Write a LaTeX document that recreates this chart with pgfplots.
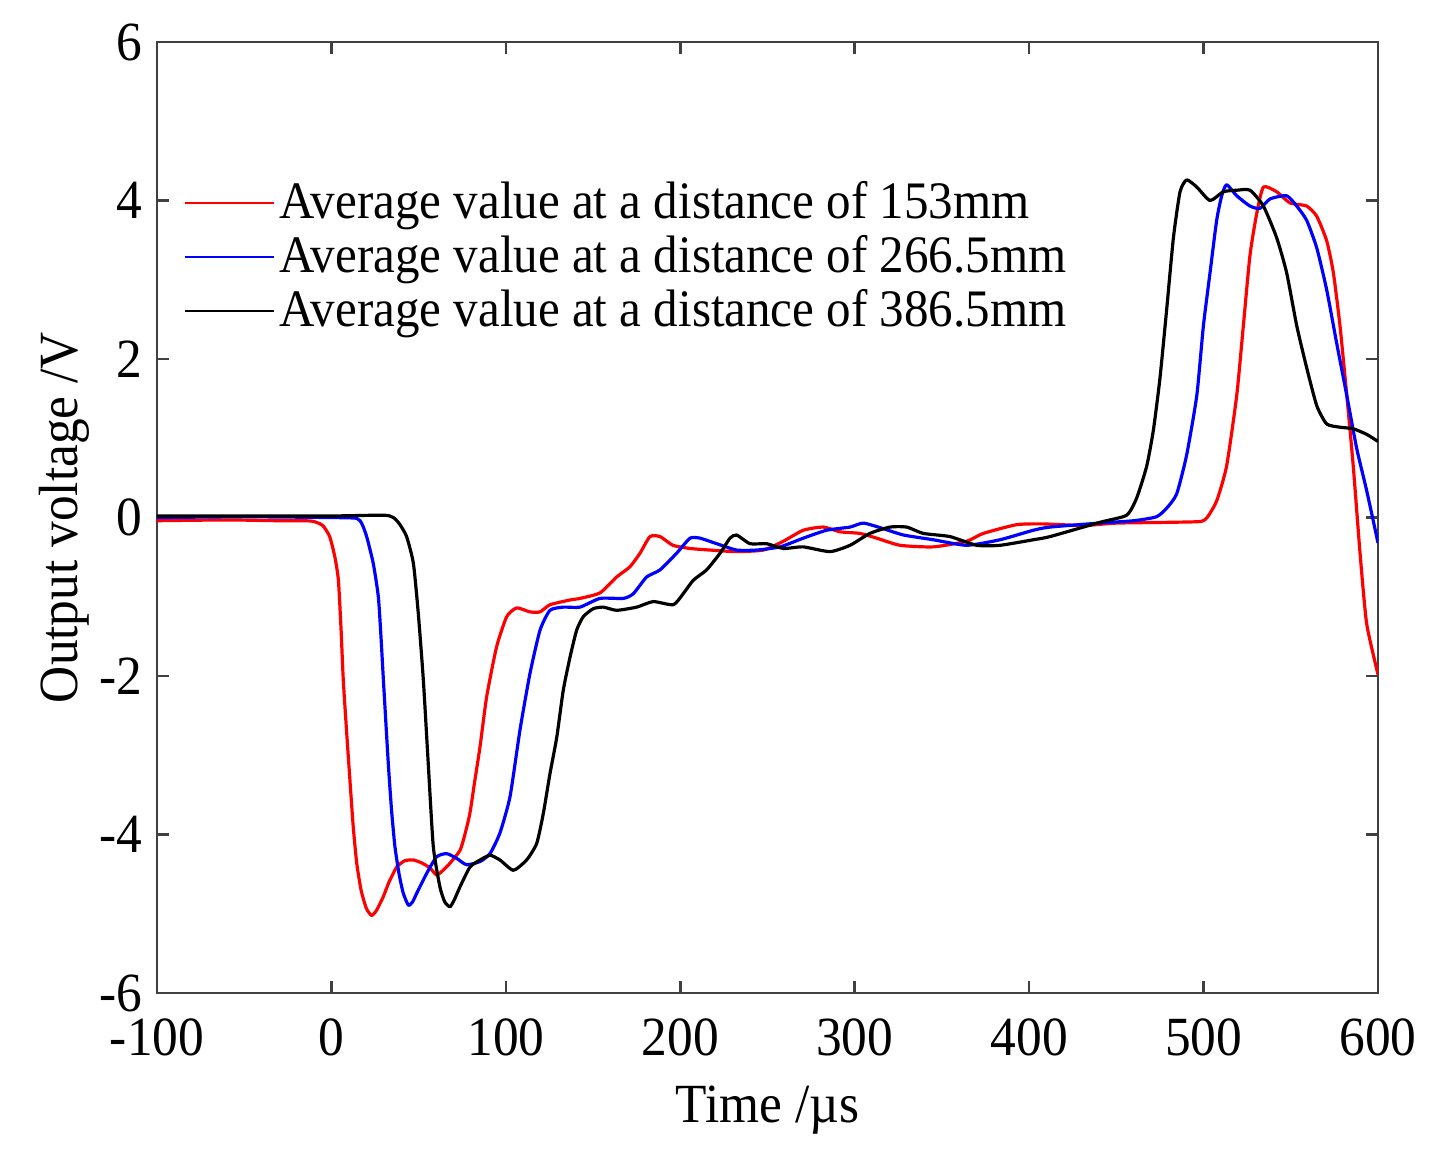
\documentclass[border=0pt]{standalone}
\usepackage{fontspec}
\setmainfont{Liberation Serif}[FakeStretch=0.93]
\usepackage{pgfplots}
\pgfplotsset{compat=1.18}

\begin{document}
\begin{tikzpicture}[font=\fontsize{13}{15}\selectfont]
\begin{axis}[
    name=ax,
    scale only axis,
    width=287.3pt, height=223.8pt,
    xmin=-100, xmax=600,
    ymin=-6, ymax=6,
    xtick={-100,0,100,200,300,400,500,600},
    ytick={-6,-4,-2,0,2,4,6},
    tick align=inside,
    xtick pos=both, ytick pos=both,
    xticklabel pos=lower, yticklabel pos=left,
    major tick length=2.8pt,
    axis line style={black!75, line width=0.6pt},
    every tick/.style={black!75, line width=0.6pt},
    /pgf/number format/assume math mode=true,
    xticklabel style={yshift=-2.6pt},
    xlabel={Time /µs},
    ylabel={Output voltage /V},
    xlabel style={at={(axis description cs:0.5,0)}, anchor=base, yshift=-30.5pt},
    ylabel style={at={(axis description cs:-0.0647,0.5)}, anchor=base},
    legend style={draw=none, fill=none, font=\fontsize{12.4}{14}\selectfont,
        at={(axis description cs:0.011,0.868)}, anchor=north west,
        nodes={inner sep=1pt}, row sep=0.5pt},
    legend cell align=left,
    legend image code/.code={\draw[#1, line width=0.6pt] (0pt,0pt) -- (20.8pt,0pt);},
    every axis plot/.append style={line width=0.75pt, line join=round, smooth, tension=0.35},
]
% 153 mm
\addplot[red] coordinates {
(-100,-0.04) (-60,-0.03) (-30,-0.04) (-15,-0.04) (-10,-0.05) (-5,-0.1) (-1,-0.24)
(2,-0.5) (4,-0.79) (5.5,-1.4) (6.8,-2.05) (8.7,-2.7) (10.6,-3.31) (12.5,-3.9)
(14.5,-4.36) (17,-4.7) (20,-4.93) (23.1,-5.02) (26,-4.95) (29.8,-4.78) (33,-4.6)
(37.4,-4.41) (42,-4.33) (47,-4.32) (52,-4.36) (56.5,-4.42) (60.3,-4.51) (64,-4.45)
(68,-4.36) (73.7,-4.2) (76.5,-4.0) (79.4,-3.73) (82,-3.35) (85.2,-2.89) (89,-2.26)
(94.7,-1.63) (100.5,-1.25) (106.2,-1.14) (113.8,-1.19) (119.6,-1.19) (125.3,-1.1)
(136.8,-1.04) (142.5,-1.02) (154,-0.95) (163.5,-0.75) (171.2,-0.62) (176.9,-0.45)
(182.6,-0.24) (188.4,-0.24) (195.8,-0.35) (205.6,-0.39) (217,-0.41) (232.3,-0.43)
(247.6,-0.41) (259,-0.3) (270.5,-0.16) (282,-0.12) (291.6,-0.18) (303,-0.2)
(312.6,-0.26) (326,-0.35) (345,-0.37) (364,-0.3) (373.7,-0.2) (392.8,-0.09)
(408,-0.08) (431,-0.1) (450,-0.07) (480,-0.06) (498,-0.05) (502,0.0) (507.5,0.21)
(513.2,0.65) (519,1.54) (522.8,2.42) (526.6,3.31) (530.5,3.84) (534.3,4.17)
(541.9,4.11) (549.5,3.97) (559.1,3.93) (564.9,3.8) (570.6,3.49) (574.4,3.09)
(578.2,2.42) (582.1,1.54) (585.8,0.65) (589.7,-0.45) (593.5,-1.34) (600,-1.98)
};
\addlegendentry{Average value at a distance of 153mm}
% 266.5 mm
\addplot[blue] coordinates {
(-100,0.0) (-50,0.01) (0,0.0) (14.5,-0.01) (17.5,-0.08) (20.2,-0.24) (24,-0.58)
(26.9,-1.0) (28.4,-1.5) (29.8,-2.05) (32.6,-3.1) (34.5,-3.7) (36.4,-4.15)
(38.8,-4.5) (41.2,-4.74) (44.1,-4.89) (46.5,-4.85) (48.9,-4.74) (54.6,-4.49)
(60.3,-4.28) (66.1,-4.24) (71.8,-4.3) (77.5,-4.38) (85.2,-4.34) (90.9,-4.24)
(96.6,-3.98) (102.4,-3.52) (108.1,-2.68) (113.8,-1.97) (119.6,-1.42) (125.3,-1.17)
(133,-1.13) (142.5,-1.13) (154,-1.02) (167.4,-1.02) (173.1,-0.96) (180.7,-0.75)
(188.4,-0.66) (197.9,-0.45) (205.6,-0.26) (211.3,-0.26) (220.9,-0.33) (232.3,-0.41)
(243.8,-0.41) (257.2,-0.37) (270.5,-0.26) (283.9,-0.16) (297.3,-0.12) (305,-0.07)
(316.4,-0.14) (327.9,-0.22) (345,-0.28) (364.2,-0.35) (383.3,-0.28) (402.4,-0.16)
(412,-0.12) (440,-0.07) (460,-0.04) (473,0.01) (478.9,0.12) (484.6,0.3)
(490.3,0.79) (496.1,1.54) (499.9,2.42) (503.7,3.09) (507.5,3.75) (510.4,4.06)
(513.2,4.2) (519,4.06) (526.6,3.93) (532.3,3.9) (538.1,4.02) (547.6,4.06)
(553.4,3.93) (559.1,3.75) (564.9,3.4) (570.6,2.87) (576.3,2.2) (582.1,1.54)
(587.8,0.87) (593.5,0.34) (600,-0.32)
};
\addlegendentry{Average value at a distance of 266.5mm}
% 386.5 mm
\addplot[black] coordinates {
(-100,0.02) (-50,0.02) (0,0.02) (30,0.03) (35.5,0.0) (39,-0.08) (43.1,-0.24)
(47,-0.58) (49.8,-1.21) (52.7,-2.05) (55.5,-3.1) (58.4,-4.15) (62.2,-4.66)
(65,-4.85) (68,-4.91) (70.5,-4.82) (73.7,-4.66) (79.4,-4.41) (85.2,-4.32)
(90.9,-4.26) (96.6,-4.32) (104.3,-4.45) (111.9,-4.32) (117.7,-4.11) (121.5,-3.73)
(125.3,-3.23) (129.2,-2.77) (132.9,-2.18) (136.8,-1.76) (140.6,-1.42) (144.4,-1.25)
(150.1,-1.15) (155.9,-1.13) (163.5,-1.17) (175,-1.13) (184.5,-1.06) (196,-1.1)
(201.7,-0.96) (207.5,-0.79) (215.1,-0.66) (222.8,-0.45) (228.5,-0.26) (232.3,-0.22)
(240,-0.33) (249.5,-0.33) (259.1,-0.39) (270.5,-0.37) (285.8,-0.43) (297.3,-0.35)
(308.7,-0.2) (320.2,-0.12) (329.8,-0.12) (339.3,-0.2) (354.6,-0.24) (369.9,-0.35)
(383.3,-0.35) (402.4,-0.28) (412,-0.24) (440.6,-0.06) (455.9,0.03) (461.7,0.25)
(467.4,0.65) (471.2,1.1) (475,1.76) (478.9,2.64) (482.7,3.53) (486.5,4.11)
(490.3,4.26) (496.1,4.17) (503.7,4.0) (511.3,4.11) (519,4.13) (526.6,4.13)
(534.3,3.93) (541.9,3.53) (547.6,3.09) (553.4,2.42) (559.1,1.89) (564.9,1.41)
(570.6,1.18) (578.2,1.14) (585.8,1.12) (593.5,1.05) (600,0.96)
};
\addlegendentry{Average value at a distance of 386.5mm}
\end{axis}
\pgfresetboundingbox
\path[use as bounding box] ([xshift=-36.94pt,yshift=-37.41pt]ax.south west)
    rectangle ([xshift=12.94pt,yshift=9.88pt]ax.north east);
\end{tikzpicture}
\end{document}
